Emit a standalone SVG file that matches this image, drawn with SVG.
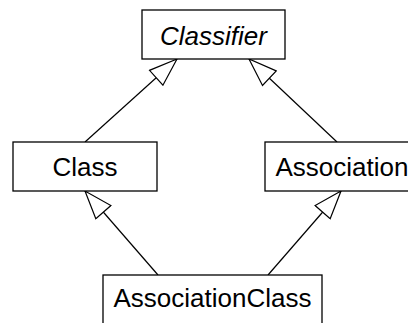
<svg xmlns="http://www.w3.org/2000/svg" width="408" height="323" viewBox="0 0 408 323">
  <style>
    .box { fill: #ffffff; stroke: #000000; stroke-width: 1.3; }
    .label { font-family: "Liberation Sans", Arial, sans-serif; font-size: 26px; fill: #000000; text-anchor: middle; }
    .abstract { font-style: italic; }
    .gen { fill: none; stroke: #000000; stroke-width: 1.2; marker-end: url(#hollow); }
  </style>
  <defs>
    <!-- hollow triangle for generalization -->
    <marker id="hollow" markerUnits="userSpaceOnUse" viewBox="0 0 30 22" markerWidth="30" markerHeight="22" refX="29" refY="11" orient="auto">
      <path d="M29,11 L1,1 L1,21 Z" fill="#ffffff" stroke="#000000" stroke-width="1.2" stroke-linejoin="miter"/>
    </marker>
  </defs>
  <rect width="408" height="323" fill="#ffffff"/>

  <g id="connectors">
    <line class="gen" x1="85" y1="142" x2="177" y2="59"/>
    <line class="gen" x1="337" y1="142" x2="249" y2="59"/>
    <line class="gen" x1="158" y1="275" x2="85" y2="191"/>
    <line class="gen" x1="268" y1="275" x2="341" y2="191"/>
  </g>

  <g id="classifier">
    <rect class="box" x="142" y="10" width="143" height="49"/>
    <text class="label abstract" x="213.5" y="44.5">Classifier</text>
  </g>

  <g id="class">
    <rect class="box" x="13" y="142" width="144" height="49"/>
    <text class="label" x="85" y="175.5">Class</text>
  </g>

  <g id="association">
    <rect class="box" x="265" y="142" width="157" height="49"/>
    <text class="label" x="342" y="175.5">Association</text>
  </g>

  <g id="associationclass">
    <rect class="box" x="103" y="275" width="219" height="49"/>
    <text class="label" x="212.5" y="307">AssociationClass</text>
  </g>
</svg>
